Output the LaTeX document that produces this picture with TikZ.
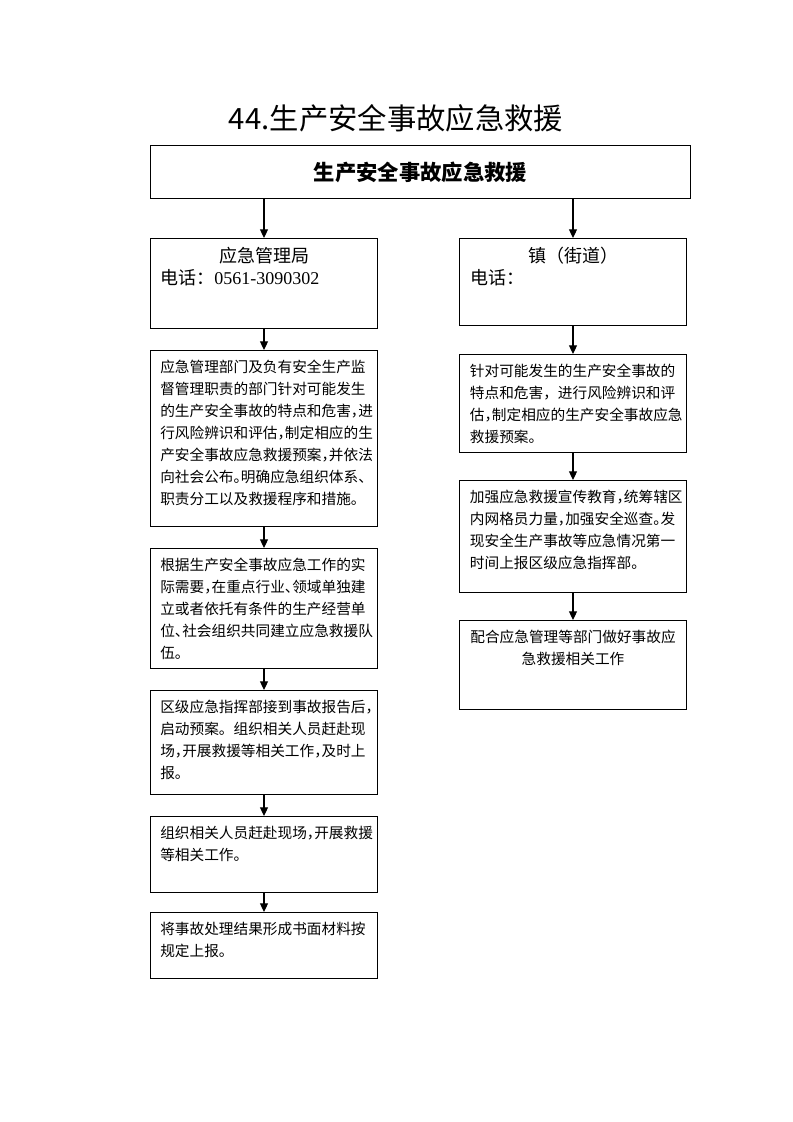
\documentclass[tikz,border=0pt]{standalone}
\usepackage{fontspec}
\setmainfont{Liberation Serif}
\newfontfamily\cjk{Noto Sans CJK SC}
\usetikzlibrary{positioning,arrows.meta}

% half-width punctuation
\newcommand\hc{\makebox[0.5em][l]{，}}
\newcommand\hd{\makebox[0.5em][l]{、}}
\newcommand\hp{\makebox[0.5em][l]{。}}

\tikzset{
  box/.style = {draw, line width=0.75pt, inner sep=0pt, anchor=north west, minimum width=170.25pt},
  txt/.style = {inner sep=0pt, anchor=north west, align=left, font=\cjk\fontsize{11pt}{16.5pt}\selectfont},
  arr/.style = {line width=0.8pt, -{Triangle[length=6.5pt,width=6pt]}}
}

\begin{document}
\begin{tikzpicture}[x=0.75pt, y=-0.75pt]
    \useasboundingbox (0,0) rectangle (793,1122);

    % title and top box
    \node [font=\cjk\fontsize{22pt}{26pt}\selectfont] (title) at (396,118) {44.生产安全事故应急救援};
    \node [box, minimum width=405pt, minimum height=39.75pt] (top) at (150,145) {};
    \node [font=\cjk\bfseries\fontsize{16pt}{19pt}\selectfont] (toptxt) at (top) {生产安全事故应急救援};

    % left column
    \node [box, minimum height=67.5pt] (L1) at (150,238) {};
    \node [box, minimum height=132pt] (L2) at (150,350) {};
    \node [box, minimum height=90pt] (L3) at (150,548) {};
    \node [box, minimum height=78pt] (L4) at (150,690) {};
    \node [box, minimum height=57pt] (L5) at (150,816) {};
    \node [box, minimum height=49.5pt] (L6) at (150,912) {};

    % right column
    \node [box, minimum height=65.25pt] (R1) at (459,238) {};
    \node [box, minimum height=73.5pt] (R2) at (459,354) {};
    \node [box, minimum height=84pt] (R3) at (459,480) {};
    \node [box, minimum height=66.75pt] (R4) at (459,620) {};

    % texts
    \node [inner sep=0pt, anchor=north, font=\cjk\fontsize{13.5pt}{16pt}\selectfont, below=6.5pt of L1.north] (L1h) {应急管理局};
    \node [inner sep=0pt, anchor=north west, font=\fontsize{13.5pt}{16pt}\selectfont, below right=23pt and 7.5pt of L1.north west] (L1t) {{\cjk 电话：}0561-3090302};
    \node [inner sep=0pt, anchor=north, font=\cjk\fontsize{13.5pt}{16pt}\selectfont, below=6.5pt of R1.north] (R1h) {镇（街道）};
    \node [inner sep=0pt, anchor=north west, font=\cjk\fontsize{13.5pt}{16pt}\selectfont, below right=23pt and 8.5pt of R1.north west] (R1t) {电话：};

    \node [txt, below right=7.5pt and 7.5pt of L2.north west] (L2t) {应急管理部门及负有安全生产监\\督管理职责的部门针对可能发生\\的生产安全事故的特点和危害\hc 进\\行风险辨识和评估\hc 制定相应的生\\产安全事故应急救援预案\hc 并依法\\向社会公布\hp 明确应急组织体系\hd\\职责分工以及救援程序和措施。};
    \node [txt, below right=7.5pt and 7.5pt of L3.north west] (L3t) {根据生产安全事故应急工作的实\\际需要\hc 在重点行业\hd 领域单独建\\立或者依托有条件的生产经营单\\位\hd 社会组织共同建立应急救援队\\伍。};
    \node [txt, below right=7.5pt and 7.5pt of L4.north west] (L4t) {区级应急指挥部接到事故报告后\hc\\启动预案。组织相关人员赶赴现\\场\hc 开展救援等相关工作\hc 及时上\\报。};
    \node [txt, below right=7.5pt and 7.5pt of L5.north west] (L5t) {组织相关人员赶赴现场\hc 开展救援\\等相关工作。};
    \node [txt, below right=7.5pt and 7.5pt of L6.north west] (L6t) {将事故处理结果形成书面材料按\\规定上报。};

    \node [txt, below right=7.5pt and 8pt of R2.north west] (R2t) {针对可能发生的生产安全事故的\\特点和危害，进行风险辨识和评\\估\hc 制定相应的生产安全事故应急\\救援预案。};
    \node [txt, below right=7.5pt and 8pt of R3.north west] (R3t) {加强应急救援宣传教育\hc 统筹辖区\\内网格员力量\hc 加强安全巡查\hp 发\\现安全生产事故等应急情况第一\\时间上报区级应急指挥部。};
    \node [txt, anchor=north, align=center, below=7.5pt of R4.north] (R4t) {配合应急管理等部门做好事故应\\急救援相关工作};

    % arrows
    \draw[arr] (top.south -| L1.north) -- (L1.north);
    \draw[arr] (top.south -| R1.north) -- (R1.north);
    \draw[arr] (L1.south) -- (L2.north);
    \draw[arr] (L2.south) -- (L3.north);
    \draw[arr] (L3.south) -- (L4.north);
    \draw[arr] (L4.south) -- (L5.north);
    \draw[arr] (L5.south) -- (L6.north);
    \draw[arr] (R1.south) -- (R2.north);
    \draw[arr] (R2.south) -- (R3.north);
    \draw[arr] (R3.south) -- (R4.north);

\end{tikzpicture}
\end{document}
